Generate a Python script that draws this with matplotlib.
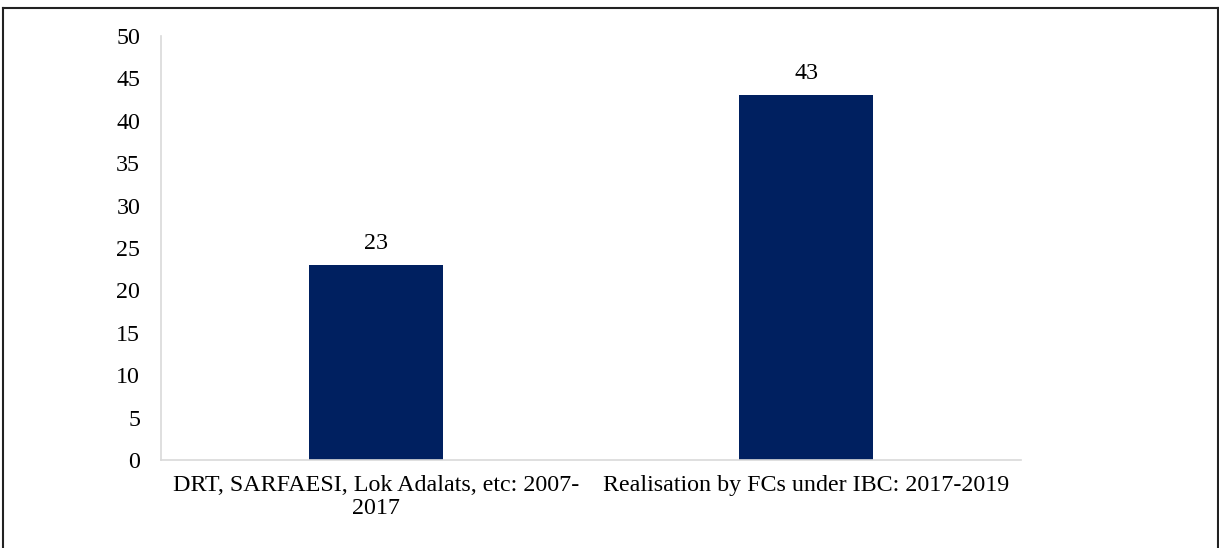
import matplotlib
matplotlib.use('Agg')
import matplotlib.pyplot as plt
from matplotlib.lines import Line2D

categories = ['DRT, SARFAESI, Lok Adalats, etc: 2007-\n2017',
              'Realisation by FCs under IBC: 2017-2019']
values = [23, 43]
yticks = [0, 5, 10, 15, 20, 25, 30, 35, 40, 45, 50]

plt.rcParams.update({
    'font.family': 'Liberation Serif',
    'font.size': 17.3,
})

fig = plt.figure(figsize=(12.19, 5.48), dpi=100)
ax = fig.add_axes([0.1321, 0.1606, 0.7055, 0.7737])

x = list(range(len(values)))
ax.bar(x, values, width=0.312, color='#002060', zorder=2)
for xi, v in zip(x, values):
    ax.text(xi, v + 1.3, f'{v}', ha='center', va='bottom')

ax.set_xlim(-0.5, 1.5)
ax.set_ylim(0, 50)
ax.set_yticks(yticks)
ax.tick_params(axis='y', length=0, pad=15)
ax.set_xticks([])

for side in ('top', 'right'):
    ax.spines[side].set_visible(False)
ax.spines['left'].set_color('#d9d9d9')
ax.spines['bottom'].set_color('#d9d9d9')
ax.spines['left'].set_linewidth(1.2)
ax.spines['bottom'].set_linewidth(1.2)

# category labels under the axis
ax.text(0, -1.8, categories[0], ha='center', va='top', linespacing=1.1,
        clip_on=False)
ax.text(1, -1.8, categories[1], ha='center', va='top', clip_on=False)

# frame around the chart area (open at the bottom)
W, H = 1219, 548
kw = dict(color='#222222', linewidth=1.5, transform=fig.transFigure)
fig.add_artist(Line2D([3 / W, 1218 / W], [1 - 8 / H, 1 - 8 / H], **kw))
fig.add_artist(Line2D([3 / W, 3 / W], [0, 1 - 8 / H], **kw))
fig.add_artist(Line2D([1218 / W, 1218 / W], [0, 1 - 8 / H], **kw))

fig.savefig('out.png', dpi=100)
